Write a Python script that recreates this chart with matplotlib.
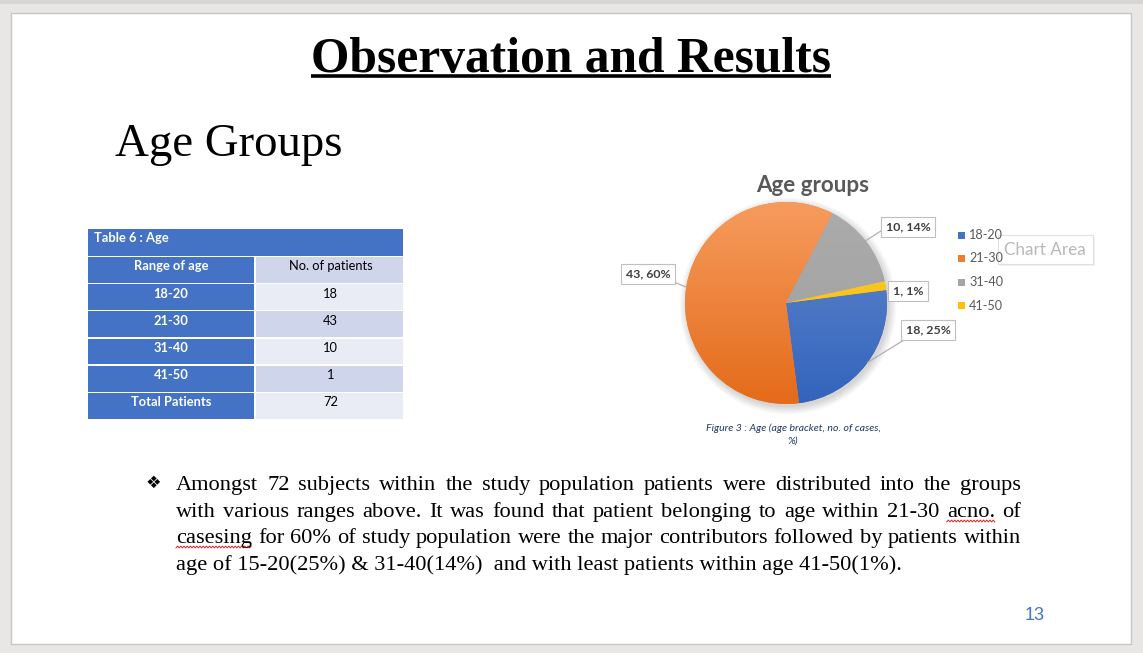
import numpy as np
import matplotlib
matplotlib.use('Agg')
import matplotlib.pyplot as plt
from matplotlib.patches import Rectangle, Circle
from matplotlib.colors import to_rgb, rgb_to_hsv, hsv_to_rgb, LinearSegmentedColormap

# ---------------- data ----------------
age_ranges = ['18-20', '21-30', '31-40', '41-50']
patients = [18, 43, 10, 1]
total = sum(patients)
pie_colors = ['#4472C4', '#ED7D31', '#A5A5A5', '#FFC000']

slide_title = 'Observation and Results'
sub_title = 'Age Groups'
table_title = 'Table 6 : Age'
table_head = ['Range of age', 'No. of patients']
chart_title = 'Age groups'
caption = ['Figure 3 : Age (age bracket, no. of cases,', '%)']
body_lines = [
    'Amongst 72 subjects within the study population patients were distributed into the groups',
    'with various ranges above. It was found that patient belonging to age within 21-30 acno. of',
    'casesing for 60% of study population were the major contributors followed by patients within',
    'age of 15-20(25%) & 31-40(14%)  and with least patients within age 41-50(1%).',
]
misspelled = ['acno.', 'casesing']
page_no = '13'

W, H = 1143, 653
SERIF = 'Liberation Serif'
SANS = ['Lato', 'DejaVu Sans']

fig = plt.figure(figsize=(W / 100, H / 100), dpi=100)
fig.patch.set_facecolor('#e8e7e5')
bg = fig.add_axes([0, 0, 1, 1])
bg.set_xlim(0, W)
bg.set_ylim(H, 0)
bg.axis('off')
renderer = fig.canvas.get_renderer()


def measure(ax, s, **kw):
    t = ax.text(0, 0, s, **kw)
    w = t.get_window_extent(renderer=renderer).width
    t.remove()
    return w


def fit(ax, s, width, **kw):
    # font size that makes s about width pixels wide
    return 20 * width / measure(ax, s, fontsize=20, **kw)


def shade(c, ds, dv):
    h, s, v = rgb_to_hsv(to_rgb(c))
    return hsv_to_rgb((h, min(1, s * ds), min(1, v * dv)))


# slide page
bg.add_patch(Rectangle((0, 0), W, 4, facecolor='#d6d6d6', lw=0))
bg.add_patch(Rectangle((11, 13), 1120, 631, facecolor='white', edgecolor='#c6c6c6', lw=1))

# headings
fs = fit(bg, slide_title, 520, family=SERIF, weight='bold')
bg.text(571, 72, slide_title, family=SERIF, weight='bold', fontsize=fs, ha='center', va='baseline')
bg.plot([311, 831], [76, 76], color='black', lw=2.6, solid_capstyle='butt')
fs = fit(bg, sub_title, 227, family=SERIF)
bg.text(115, 156, sub_title, family=SERIF, fontsize=fs, ha='left', va='baseline')

# ---------------- table ----------------
blue = '#4472C4'
light = ['#E9EBF5', '#CFD5EA']
tx0, tx1, tmid = 88, 403, 254
bg.add_patch(Rectangle((tx0, 229), tx1 - tx0, 27, facecolor=blue, lw=0))
fs_b = fit(bg, table_head[0], 74, family=SANS, weight='bold')
bg.text(94, 238, table_title, family=SANS, weight='bold', color='white', fontsize=fs_b, va='center')

rows = [table_head] + [[a, str(n)] for a, n in zip(age_ranges, patients)] + [['Total Patients', str(total)]]
row_top = 257
row_h = 27.2
for i, (left, right) in enumerate(rows):
    y = row_top + i * row_h
    bg.add_patch(Rectangle((tx0, y), tmid - tx0, row_h - 1.5, facecolor=blue, lw=0))
    bg.add_patch(Rectangle((tmid + 1.5, y), tx1 - tmid - 1.5, row_h - 1.5,
                           facecolor=light[1] if i % 2 == 0 else light[0], lw=0))
    bg.text((tx0 + tmid) / 2, y + 9.5, left, family=SANS, weight='bold', color='white',
            fontsize=fs_b, ha='center', va='center')
    bg.text((tmid + tx1) / 2 + 2, y + 9.5, right, family=SANS, color='black',
            fontsize=fs_b, ha='center', va='center')

# ---------------- pie ----------------
cx, cy, R = 786, 303, 101
pa = fig.add_axes([(cx - 1.2 * R) / W, 1 - (cy + 1.2 * R) / H, 2.4 * R / W, 2.4 * R / H])
pa.axis('off')
for k in range(7):
    pa.add_patch(Circle((0.02, -0.03), 1 + 0.012 * k, facecolor='black', alpha=0.022, lw=0))
wedges, _ = pa.pie(patients, colors=pie_colors, startangle=7.4, counterclock=False,
                   radius=1, wedgeprops=dict(lw=0))
grad = np.linspace(0, 1, 256).reshape(-1, 1)
for w, c in zip(wedges, pie_colors):
    top = shade(c, 0.78, 1.04)
    bottom = shade(c, 1.12, 0.96)
    cmap = LinearSegmentedColormap.from_list('g', [bottom, top])
    im = pa.imshow(grad, cmap=cmap, extent=(-1, 1, -1, 1), origin='lower', aspect='auto', zorder=3)
    im.set_clip_path(w)
pa.set_xlim(-1.2, 1.2)
pa.set_ylim(-1.2, 1.2)

fg = fig.add_axes([0, 0, 1, 1], zorder=5)
fg.set_xlim(0, W)
fg.set_ylim(H, 0)
fg.axis('off')

fs = fit(fg, chart_title, 113, family=SANS, weight='bold')
fg.text(813, 186, chart_title, family=SANS, weight='bold', color='#595959', fontsize=fs,
        ha='center', va='center')

# data labels: box centre, leader start, leader angle on the rim
label_pos = [(928, 330), (648, 274), (908, 227), (908, 291)]
leader_from = [(904, 340), (674, 282), (884, 229), None]
leader_ang = [-36, 171, 38, None]
fs_l = fit(fg, '10, 14%', 45, family=SANS, weight='bold')
for i, n in enumerate(patients):
    txt = f'{n}, {round(100 * n / total)}%'
    if leader_from[i] is not None:
        a = np.radians(leader_ang[i])
        fg.plot([leader_from[i][0], cx + R * np.cos(a)], [leader_from[i][1], cy - R * np.sin(a)],
                color='#b0b0b0', lw=0.9)
    fg.text(label_pos[i][0], label_pos[i][1], txt, family=SANS, weight='bold', color='#404040',
            fontsize=fs_l, ha='center', va='center',
            bbox=dict(boxstyle='square,pad=0.35', fc='white', ec='#bfbfbf', lw=0.8))

# legend
fs_g = fit(fg, '18-20', 34, family=SANS)
for i, (lab, c) in enumerate(zip(age_ranges, pie_colors)):
    y = 235 + i * 23.5
    fg.add_patch(Rectangle((958, y - 3.5), 7, 7, facecolor=c, lw=0))
    fg.text(969, y, lab, family=SANS, color='#595959', fontsize=fs_g, va='center')

# "Chart Area" tooltip
fg.add_patch(Rectangle((1000, 237), 95, 29, facecolor='black', alpha=0.06, lw=0))
fg.add_patch(Rectangle((998, 235), 95, 29, facecolor='white', edgecolor='#e0e0e0', lw=0.8))
fs = fit(fg, 'Chart Area', 82, family=SANS)
fg.text(1045, 250, 'Chart Area', family=SANS, color='#b8b8b8', fontsize=fs, ha='center', va='center')

# caption
fs = fit(fg, caption[0], 173, family=SANS, style='italic')
fg.text(793, 428, caption[0], family=SANS, style='italic', color='#1F3864', fontsize=fs, ha='center', va='center')
fg.text(793, 441, caption[1], family=SANS, style='italic', color='#1F3864', fontsize=fs, ha='center', va='center')

# ---------------- body text ----------------
x0, x1 = 176, 1021
fs_t = fit(bg, body_lines[3], 723, family=SERIF)
bg.text(153, 483, '\u2756', family='DejaVu Sans', fontsize=12.5, ha='center', va='center')
baselines = [490, 517, 543, 570]
for k, line in enumerate(body_lines):
    y = baselines[k]
    if k == len(body_lines) - 1:
        bg.text(x0, y, line, family=SERIF, fontsize=fs_t, va='baseline')
        continue
    words = line.split()
    widths = [measure(bg, w, family=SERIF, fontsize=fs_t) for w in words]
    gap = (x1 - x0 - sum(widths)) / (len(words) - 1)
    x = x0
    for w, wd in zip(words, widths):
        bg.text(x, y, w, family=SERIF, fontsize=fs_t, va='baseline')
        if w in misspelled:
            xs = np.arange(x, x + wd, 1.6)
            ys = y + 4 + 0.9 * (-1) ** np.arange(len(xs))
            bg.plot(xs, ys, color='#e02020', lw=0.7)
        x += wd + gap

fs = fit(bg, page_no, 20, family='Liberation Sans')
bg.text(1035, 616, page_no, family='Liberation Sans', color='#4472C4', fontsize=fs, ha='center', va='center')

fig.savefig('out.png', dpi=100, facecolor=fig.get_facecolor())
